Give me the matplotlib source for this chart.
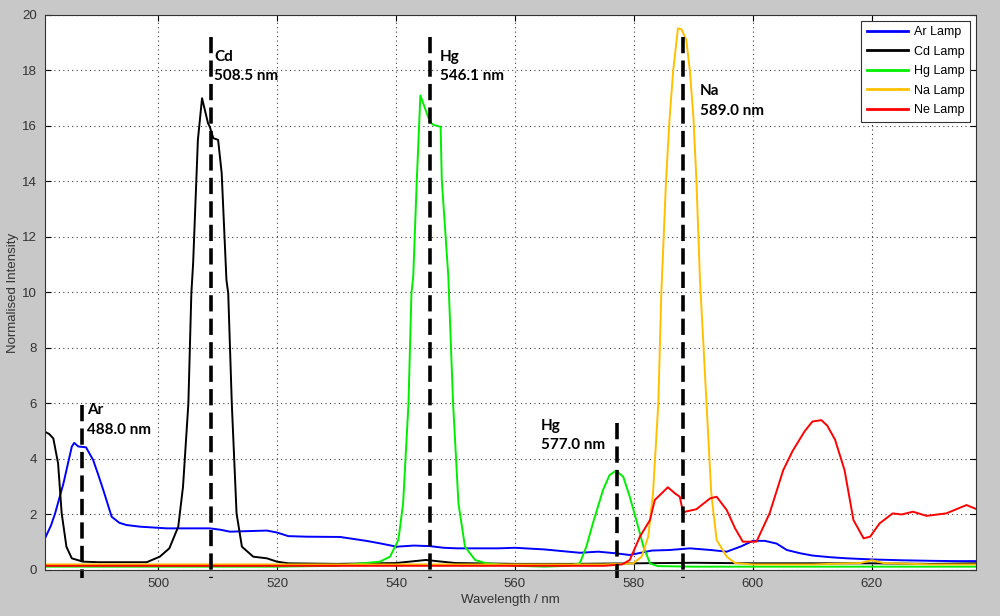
import matplotlib
matplotlib.use('Agg')
import matplotlib.pyplot as plt

# --- data ---
ar_x = [481.0, 482.0, 482.7, 484.1, 485.5, 485.9, 486.6, 487.9, 489.1, 490.0, 490.8, 492.2,
        493.5, 494.7, 497.0, 501.5, 507.0, 508.7, 510.5, 512.1, 515.0, 518.3, 520.0, 521.9,
        525.0, 530.6, 535.0, 537.3, 540.1, 543.0, 545.7, 548.0, 550.2, 555.0, 557.2, 560.0,
        565.0, 570.9, 574.0, 577.0, 579.3, 583.0, 586.0, 589.4, 592.9, 595.6, 598.0, 600.0,
        602.0, 604.0, 605.7, 608.0, 610.0, 613.0, 615.8, 620.0, 625.0, 630.0, 634.0, 637.5]
ar_y = [1.14, 1.6, 2.04, 3.12, 4.44, 4.58, 4.45, 4.42, 3.96, 3.4, 2.88, 1.92,
        1.7, 1.62, 1.56, 1.5, 1.5, 1.5, 1.45, 1.38, 1.4, 1.42, 1.35, 1.22,
        1.2, 1.19, 1.05, 0.96, 0.84, 0.88, 0.86, 0.8, 0.78, 0.78, 0.78, 0.8,
        0.74, 0.62, 0.66, 0.6, 0.54, 0.7, 0.72, 0.78, 0.72, 0.66, 0.85, 1.05,
        1.05, 0.95, 0.72, 0.6, 0.52, 0.46, 0.42, 0.38, 0.35, 0.33, 0.32, 0.32]

cd_x = [481.0, 481.7, 482.4, 483.2, 483.8, 484.6, 485.5, 487.4, 490.0, 495.0, 498.1, 500.3,
        501.9, 503.4, 504.2, 505.1, 505.6, 505.9, 506.7, 507.4, 508.4, 508.7, 509.3, 510.1,
        510.7, 511.5, 511.8, 512.4, 513.2, 514.1, 516.0, 518.3, 520.0, 521.9, 530.0, 540.0,
        545.0, 550.0, 560.0, 570.0, 580.0, 590.0, 600.0, 610.0, 620.0, 630.0, 637.5]
cd_y = [4.98, 4.9, 4.74, 3.84, 2.05, 0.84, 0.42, 0.3, 0.28, 0.28, 0.28, 0.48,
        0.78, 1.56, 3.0, 6.0, 9.97, 11.05, 15.5, 17.0, 16.1, 15.97, 15.56, 15.5,
        14.3, 10.45, 9.97, 6.0, 2.04, 0.84, 0.48, 0.42, 0.3, 0.24, 0.22, 0.25,
        0.36, 0.25, 0.22, 0.22, 0.24, 0.26, 0.24, 0.24, 0.24, 0.22, 0.24]

hg_x = [481.0, 500.0, 520.0, 530.0, 537.3, 539.0, 540.4, 541.2, 542.1, 542.6, 542.9, 543.5,
        544.1, 545.7, 546.3, 547.5, 547.7, 548.8, 549.6, 550.5, 551.6, 553.3, 555.2, 560.0,
        565.0, 569.0, 570.9, 572.0, 573.1, 574.8, 575.9, 577.0, 578.2, 579.3, 580.4, 581.6,
        582.7, 584.0, 590.0, 600.0, 610.0, 620.0, 630.0, 637.5]
hg_y = [0.12, 0.12, 0.12, 0.15, 0.3, 0.48, 1.08, 2.4, 6.0, 9.97, 10.57, 14.05,
        17.1, 16.15, 16.04, 15.97, 14.05, 10.57, 6.0, 2.4, 0.84, 0.36, 0.24, 0.15,
        0.12, 0.15, 0.24, 0.84, 1.68, 2.88, 3.42, 3.58, 3.36, 2.64, 1.8, 0.84,
        0.24, 0.14, 0.12, 0.12, 0.12, 0.12, 0.12, 0.12]

na_x = [481.0, 500.0, 520.0, 540.0, 560.0, 575.0, 579.9, 581.3, 582.4, 583.2, 584.1, 584.6,
        585.4, 586.0, 586.6, 587.4, 588.0, 588.8, 589.4, 590.0, 590.5, 591.1, 592.2, 593.0,
        593.9, 595.6, 597.0, 600.0, 610.0, 618.0, 620.0, 622.0, 630.0, 637.5]
na_y = [0.2, 0.2, 0.2, 0.2, 0.2, 0.2, 0.24, 0.48, 1.2, 2.76, 6.0, 9.97,
        14.05, 16.3, 18.0, 19.52, 19.48, 19.1, 18.0, 16.3, 14.05, 10.45, 6.0, 2.76,
        1.08, 0.48, 0.25, 0.2, 0.2, 0.25, 0.35, 0.25, 0.2, 0.2]

ne_x = [481.0, 500.0, 520.0, 540.0, 560.0, 575.0, 578.0, 579.3, 581.0, 582.7, 583.5, 585.7,
        586.9, 587.7, 588.3, 588.6, 590.5, 592.8, 593.9, 595.6, 597.0, 598.3, 600.6, 602.8,
        605.1, 606.7, 608.7, 610.0, 611.5, 612.5, 613.8, 615.4, 616.9, 618.6, 619.7, 621.3,
        623.5, 625.0, 626.9, 629.2, 632.5, 635.9, 637.5]
ne_y = [0.15, 0.15, 0.15, 0.15, 0.15, 0.15, 0.2, 0.36, 1.2, 1.8, 2.52, 2.98,
        2.76, 2.64, 2.04, 2.1, 2.19, 2.58, 2.64, 2.16, 1.5, 1.02, 1.02, 2.04,
        3.6, 4.3, 5.0, 5.35, 5.4, 5.2, 4.7, 3.6, 1.8, 1.14, 1.2, 1.68,
        2.04, 2.0, 2.1, 1.95, 2.04, 2.34, 2.2]

lamp_names = ['Ar Lamp', 'Cd Lamp', 'Hg Lamp', 'Na Lamp', 'Ne Lamp']
lamp_colors = ['#0000ff', '#000000', '#00ee00', '#ffc000', '#ff0000']

# reference lines (position, top) and their labels (text x, text top)
line_pos = [487.3, 508.9, 545.7, 577.2, 588.3]
line_top = [5.95, 19.2, 19.2, 5.3, 19.2]
line_labels = ['Ar\n488.0 nm', 'Cd\n508.5 nm', 'Hg\n546.1 nm', 'Hg\n577.0 nm', 'Na\n589.0 nm']
label_x = [488.1, 509.4, 547.4, 564.4, 591.1]
label_y = [6.0, 18.75, 18.75, 5.45, 17.5]

fig = plt.figure(figsize=(10, 6.16), dpi=100, facecolor='#c8c8c8')
ax = fig.add_axes([0.045, 0.0747, 0.931, 0.901])

series = [(ar_x, ar_y), (cd_x, cd_y), (hg_x, hg_y), (na_x, na_y), (ne_x, ne_y)]
for (xs, ys), name, col in zip(series, lamp_names, lamp_colors):
    ax.plot(xs, ys, color=col, lw=1.4, label=name)

# dashed markers drawn top-down so each starts with a full dash
for xp, top in zip(line_pos, line_top):
    ax.plot([xp, xp], [top, -0.3], color='k', lw=2.6, dashes=(4.5, 2.0),
            clip_on=False, solid_capstyle='butt', dash_capstyle='butt')

for txt, tx, ty in zip(line_labels, label_x, label_y):
    ax.text(tx, ty, txt, fontsize=11, fontweight='bold', family='Lato',
            va='top', ha='left', linespacing=1.5)

ax.set_xlim(481.0, 637.5)
ax.set_ylim(0, 20)
ax.set_xticks([500, 520, 540, 560, 580, 600, 620])
ax.set_yticks(range(0, 21, 2))
ax.grid(True, color='#404040', linestyle=(0, (1, 3)), linewidth=0.8)
ax.tick_params(direction='in', length=4, top=True, right=True, labelsize=9.5,
               labelcolor='#333333', pad=6)
for lab in ax.get_xticklabels() + ax.get_yticklabels():
    lab.set_family('Liberation Sans')
for sp in ax.spines.values():
    sp.set_linewidth(0.8)
    sp.set_color('#333333')

ax.set_xlabel('Wavelength / nm', fontsize=9.5, family='Liberation Sans', color='#333333',
              labelpad=3)
ax.set_ylabel('Normalised Intensity', fontsize=9.5, family='Liberation Sans', color='#333333',
              labelpad=2)

leg = ax.legend(loc='upper right', prop={'family': 'Liberation Sans', 'size': 9},
                handlelength=3.3, labelspacing=0.6, fancybox=False, framealpha=1,
                borderaxespad=0.45, borderpad=0.45, handletextpad=0.5)
leg.get_frame().set_edgecolor('#333333')
leg.get_frame().set_linewidth(0.8)
for h in leg.get_lines():
    h.set_linewidth(2)

fig.savefig('out.png', dpi=100, facecolor=fig.get_facecolor())
